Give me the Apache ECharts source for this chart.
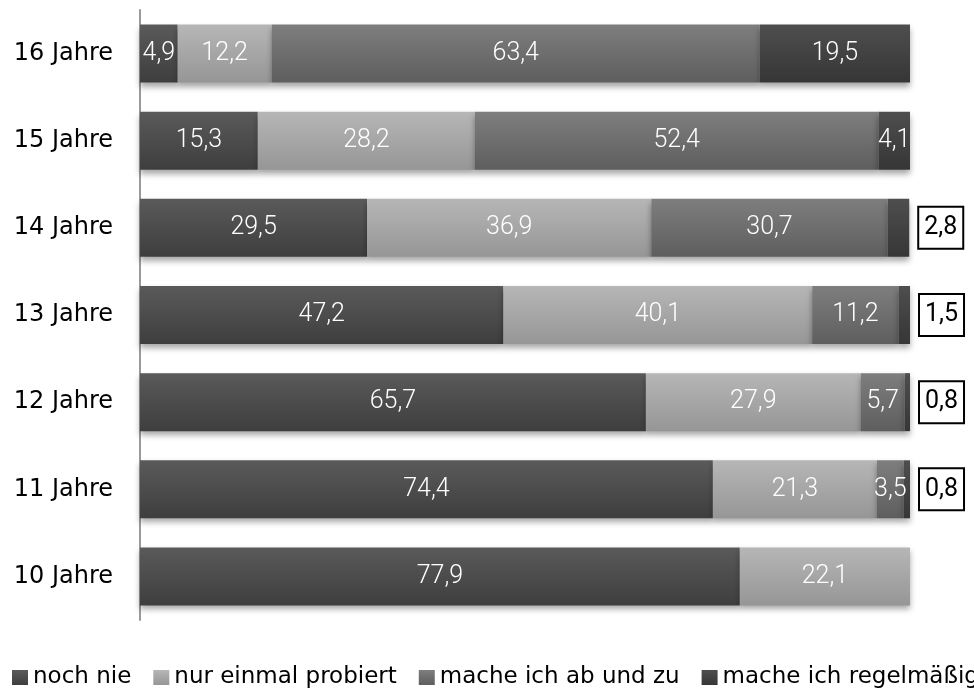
<!DOCTYPE html>
<html>
<head>
<meta charset="utf-8">
<script src="https://cdn.jsdelivr.net/npm/echarts@6/dist/echarts.min.js"></script>
<style>
  html, body { margin: 0; padding: 0; background: #fff; }
  #chart { width: 974px; height: 690px; }
</style>
</head>
<body>
<div id="chart"></div>
<script>
// Age groups, top row first
const ages = ['16 Jahre', '15 Jahre', '14 Jahre', '13 Jahre', '12 Jahre', '11 Jahre', '10 Jahre'];

// Shares in percent per answer
const nochNie      = [4.9, 15.3, 29.5, 47.2, 65.7, 74.4, 77.9];
const einmal       = [12.2, 28.2, 36.9, 40.1, 27.9, 21.3, 22.1];
const abUndZu      = [63.4, 52.4, 30.7, 11.2, 5.7, 3.5, 0];
const regelmaessig = [19.5, 4.1, 2.8, 1.5, 0.8, 0.8, 0];

const seriesNames = ['noch nie', 'nur einmal probiert', 'mache ich ab und zu', 'mache ich regelmäßig'];

// Small shares that get a boxed label beside the bar
const boxedRows = ['14 Jahre', '13 Jahre', '12 Jahre', '11 Jahre'];

function grad(top, bottom) {
  return new echarts.graphic.LinearGradient(0, 0, 0, 1, [
    { offset: 0, color: top },
    { offset: 1, color: bottom }
  ]);
}

const fills = [
  grad('#5a5a5a', '#3e3e3e'),
  grad('#b6b6b6', '#969696'),
  grad('#7e7e7e', '#5e5e5e'),
  grad('#4e4e4e', '#363636')
];

const fmt = p => (p.value ? p.value.toFixed(1).replace('.', ',') : '');

const valueLabel = {
  show: true,
  position: 'inside',
  color: '#ffffff',
  fontFamily: 'Roboto',
  fontWeight: 300,
  fontSize: 25,
  formatter: fmt
};

function makeSeries(name, values, idx) {
  const data = values.map((v, i) => {
    const item = { value: v };
    if (idx === 3 && boxedRows.indexOf(ages[i]) >= 0) {
      item.label = {
        position: 'right',
        distance: 10,
        color: '#000000',
        backgroundColor: '#ffffff',
        borderColor: '#000000',
        borderWidth: 2,
        padding: [8, 5, 7, 5],
        fontFamily: 'Roboto',
        fontWeight: 400,
        fontSize: 25
      };
    }
    return item;
  });
  return {
    name: name,
    type: 'bar',
    stack: 'total',
    barWidth: 58,
    data: data,
    label: valueLabel,
    itemStyle: {
      color: fills[idx],
      shadowColor: 'rgba(0,0,0,0.35)',
      shadowBlur: 6,
      shadowOffsetY: 4
    },
    emphasis: { disabled: true }
  };
}

const chart = echarts.init(document.getElementById('chart'), null, { renderer: 'canvas' });

chart.setOption({
  animation: false,
  backgroundColor: '#ffffff',
  grid: { left: 140, right: 64, top: 10, bottom: 70, containLabel: false },
  legend: {
    left: 7,
    top: 661,
    width: 1600,
    itemWidth: 16,
    itemHeight: 15,
    itemGap: 22,
    icon: 'rect',
    textStyle: { fontFamily: 'DejaVu Sans', fontSize: 23, color: '#000000' },
    data: seriesNames
  },
  xAxis: {
    type: 'value',
    min: 0,
    max: 100,
    show: false
  },
  yAxis: {
    type: 'category',
    inverse: true,
    data: ages,
    axisLine: { show: true, lineStyle: { color: '#9a9a9a', width: 2 } },
    axisTick: { show: false },
    axisLabel: { margin: 27, fontFamily: 'DejaVu Sans', fontSize: 24, color: '#000000' }
  },
  series: [
    makeSeries(seriesNames[0], nochNie, 0),
    makeSeries(seriesNames[1], einmal, 1),
    makeSeries(seriesNames[2], abUndZu, 2),
    makeSeries(seriesNames[3], regelmaessig, 3)
  ]
});
</script>
</body>
</html>
